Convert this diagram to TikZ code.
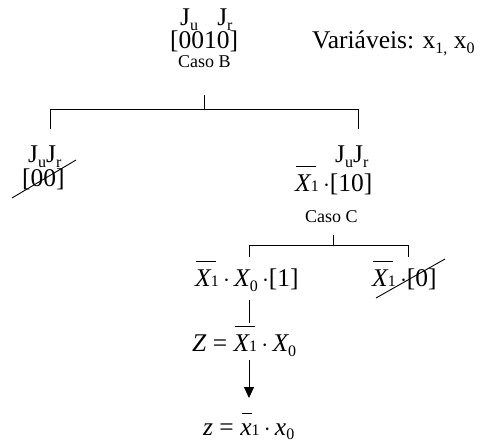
\documentclass[tikz,border=0pt]{standalone}
\usepackage{fontspec}
\setmainfont{Liberation Serif}
\usetikzlibrary{arrows.meta}
\newcommand\bigf{\fontsize{25.5}{27}\selectfont}
\newcommand\midf{\fontsize{18}{20}\selectfont}
\newcommand\smf{\fontsize{16}{16}\selectfont}
\newcommand\XB{\leavevmode\rlap{\hspace{0.05em}\raisebox{0.98em}{\rule{0.78em}{0.8pt}}}{\itshape X}}
\newcommand\xb{\leavevmode\rlap{\hspace{0.08em}\raisebox{0.85em}{\rule{0.4em}{0.8pt}}}{\itshape x}}
\newcommand\lowsub[1]{\raisebox{-5pt}{\smf #1}}
\begin{document}
\begin{tikzpicture}[x=1pt,y=-1pt,
  lbl/.style={inner sep=0pt,anchor=base west,font=\bigf},
  small/.style={inner sep=0pt,anchor=base west,font=\midf},
  ln/.style={line width=0.9pt},
  strike/.style={line width=0.9pt}]
\useasboundingbox (0,0) rectangle (480,441);
% top node
\node[lbl] (ju) at (180,26) {J\lowsub{u}\,\,\, J\lowsub{r}};
\node[lbl] (b0010) at (170,49) {[0010]};
\node[small] (casoB) at (178,68) {Caso B};
\node[lbl,anchor=base west] (var) at (312,49) {Variáveis: x\lowsub{1,} x\lowsub{0}};
% bracket B
\coordinate (bt) at (204,95);
\coordinate (bj) at (204,109);
\coordinate (bl) at (50,109);
\coordinate (br) at (358,109);
\coordinate (bld) at (50,129);
\coordinate (brd) at (358,129);
\draw[ln] (bt) -- (bj);
\draw[ln] (bld) -- (bl) -- (br) -- (brd);
% left node
\node[lbl] (jl) at (28,163) {J\lowsub{u}J\lowsub{r}};
\node[lbl] (l00) at (22,187) {[00]};
\coordinate (s1a) at (12,198);
\coordinate (s1b) at (76,160);
\draw[strike] (s1a) -- (s1b);
% right node
\node[lbl] (jr) at (335,163) {J\lowsub{u}J\lowsub{r}};
\node[lbl] (r10) at (295,192) {\XB{\smf 1}\,$\cdot$[10]};
\node[small] (casoC) at (305,223) {Caso C};
% bracket C
\coordinate (ct) at (333,235);
\coordinate (cj) at (333,245);
\coordinate (cl) at (249,245);
\coordinate (cr) at (408,245);
\coordinate (cld) at (249,257);
\coordinate (crd) at (408,257);
\draw[ln] (ct) -- (cj);
\draw[ln] (cld) -- (cl) -- (cr) -- (crd);
% children of C
\node[lbl] (c1) at (195,287) {\XB{\smf 1}\,$\cdot$\,{\itshape X}\lowsub{0}\,$\cdot$[1]};
\node[lbl] (c0) at (372,287) {\XB{\smf 1}\,$\cdot$[0]};
\coordinate (s2a) at (376,298);
\coordinate (s2b) at (445,259);
\draw[strike] (s2a) -- (s2b);
% Z
\coordinate (v1a) at (249,300);
\coordinate (v1b) at (249,323);
\draw[ln] (v1a) -- (v1b);
\node[lbl] (Z) at (192,352) {{\itshape Z} = \XB{\smf 1}\,$\cdot$\,{\itshape X}\lowsub{0}};
\coordinate (aa) at (249,360);
\coordinate (ab) at (249,398);
\draw[ln,-{Triangle[length=11pt,width=10pt]}] (aa) -- (ab);
\node[lbl] (z) at (203,435) {{\itshape z} = \xb{\smf 1}\,$\cdot$\,{\itshape x}\lowsub{0}};
\end{tikzpicture}
\end{document}
